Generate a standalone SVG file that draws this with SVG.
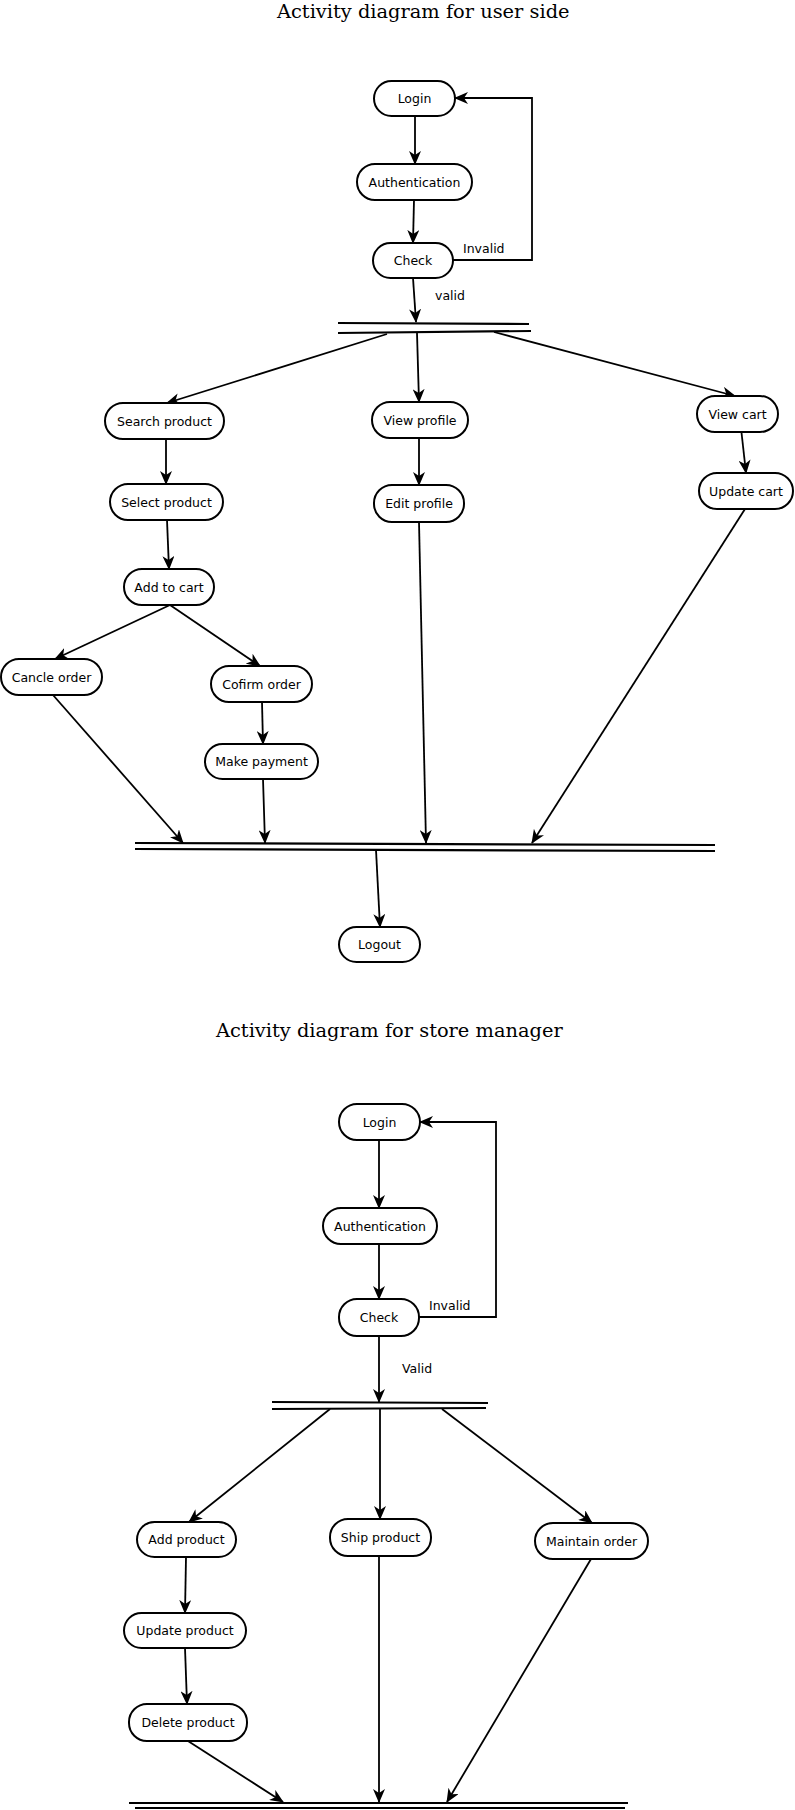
<svg xmlns="http://www.w3.org/2000/svg" width="795" height="1810" viewBox="0 0 795 1810">
<style>
.n rect{fill:#fff;stroke:#000;stroke-width:2}
.n text{font-family:"DejaVu Sans",sans-serif;font-size:12.5px;text-anchor:middle;fill:#000}
.c line,.c polyline{stroke:#000;stroke-width:1.8;fill:none}
.c .a{marker-end:url(#ah)}
.bar line{stroke:#000;stroke-width:2.2}
.t{font-family:"DejaVu Serif",serif;font-size:19.4px;fill:#000}
.l{font-family:"DejaVu Sans",sans-serif;font-size:12.5px;fill:#000}
</style>
<defs>
<marker id="ah" markerWidth="14" markerHeight="12" refX="13" refY="6" orient="auto" markerUnits="userSpaceOnUse">
<path d="M0,0 L14,6 L0,12 L4,6 z" fill="#000"/>
</marker>
</defs>
<rect width="795" height="1810" fill="#fff"/>
<text class="t" x="277" y="18">Activity diagram for user side</text>
<text class="t" x="216" y="1037">Activity diagram for store manager</text>

<g class="bar" id="u-fork">
<line x1="338" y1="323" x2="529" y2="324"/>
<line x1="338" y1="333" x2="531" y2="331"/>
</g>
<g class="bar" id="u-join">
<line x1="135" y1="843" x2="715" y2="845"/>
<line x1="135" y1="849" x2="715" y2="851"/>
</g>
<g class="bar" id="m-fork">
<line x1="272" y1="1402" x2="488" y2="1403"/>
<line x1="272" y1="1409" x2="486" y2="1408"/>
</g>
<g class="bar" id="m-join">
<line x1="129" y1="1803" x2="628" y2="1803"/>
<line x1="135" y1="1808" x2="625" y2="1808"/>
</g>

<g class="c" id="connectors">
<line class="a" x1="415" y1="116" x2="415" y2="164"/>
<line class="a" x1="414" y1="200" x2="413" y2="243"/>
<line class="a" x1="413" y1="278" x2="416" y2="322"/>
<polyline class="a" points="453,260 532,260 532,98 455,98"/>
<line class="a" x1="387" y1="334" x2="167" y2="403"/>
<line class="a" x1="417" y1="333" x2="419" y2="402"/>
<line class="a" x1="494" y1="332" x2="735" y2="396"/>
<line class="a" x1="166" y1="439" x2="166" y2="484"/>
<line class="a" x1="167" y1="520" x2="169" y2="569"/>
<line class="a" x1="419" y1="438" x2="419" y2="485"/>
<line class="a" x1="741" y1="428" x2="746" y2="473"/>
<line class="a" x1="170" y1="605" x2="55" y2="659"/>
<line class="a" x1="170" y1="605" x2="260" y2="666"/>
<line class="a" x1="262" y1="702" x2="263" y2="744"/>
<line class="a" x1="53" y1="695" x2="183" y2="843"/>
<line class="a" x1="263" y1="779" x2="265" y2="843"/>
<line class="a" x1="419" y1="522" x2="426" y2="843"/>
<line class="a" x1="745" y1="509" x2="532" y2="843"/>
<line class="a" x1="376" y1="850" x2="380" y2="927"/>

<line class="a" x1="379" y1="1140" x2="379" y2="1208"/>
<line class="a" x1="379" y1="1244" x2="379" y2="1299"/>
<line class="a" x1="379" y1="1336" x2="379" y2="1402"/>
<polyline class="a" points="419,1317 496,1317 496,1122 420,1122"/>
<line class="a" x1="330" y1="1409" x2="189" y2="1522"/>
<line class="a" x1="380" y1="1409" x2="380" y2="1519"/>
<line class="a" x1="442" y1="1409" x2="592" y2="1523"/>
<line class="a" x1="186" y1="1557" x2="185" y2="1613"/>
<line class="a" x1="185" y1="1648" x2="187" y2="1704"/>
<line class="a" x1="188" y1="1741" x2="283" y2="1802"/>
<line class="a" x1="379" y1="1556" x2="379" y2="1802"/>
<line class="a" x1="591" y1="1559" x2="447" y2="1802"/>
</g>

<text class="l" x="463" y="253">Invalid</text>
<text class="l" x="435" y="300">valid</text>
<text class="l" x="429" y="1310">Invalid</text>
<text class="l" x="402" y="1373">Valid</text>

<g class="n" id="u-login"><rect x="374" y="81" width="81" height="35" rx="17.5"/><text x="414.5" y="103">Login</text></g>
<g class="n" id="u-auth"><rect x="357" y="164" width="115" height="36" rx="18"/><text x="414.5" y="186.5">Authentication</text></g>
<g class="n" id="u-check"><rect x="373" y="243" width="80" height="35" rx="17.5"/><text x="413" y="265">Check</text></g>
<g class="n" id="u-search"><rect x="105" y="403" width="119" height="36" rx="18"/><text x="164.5" y="425.5">Search product</text></g>
<g class="n" id="u-viewprofile"><rect x="372" y="402" width="96" height="36" rx="18"/><text x="420" y="424.5">View profile</text></g>
<g class="n" id="u-viewcart"><rect x="697" y="396" width="81" height="36" rx="18"/><text x="737.5" y="418.5">View cart</text></g>
<g class="n" id="u-select"><rect x="110" y="484" width="113" height="36" rx="18"/><text x="166.5" y="506.5">Select product</text></g>
<g class="n" id="u-editprofile"><rect x="374" y="485" width="90" height="37" rx="18"/><text x="419" y="508">Edit profile</text></g>
<g class="n" id="u-updatecart"><rect x="699" y="473" width="94" height="36" rx="18"/><text x="746" y="495.5">Update cart</text></g>
<g class="n" id="u-addcart"><rect x="124" y="569" width="90" height="36" rx="18"/><text x="169" y="591.5">Add to cart</text></g>
<g class="n" id="u-cancel"><rect x="1" y="659" width="101" height="36" rx="18"/><text x="51.5" y="681.5">Cancle order</text></g>
<g class="n" id="u-confirm"><rect x="211" y="666" width="101" height="36" rx="18"/><text x="261.5" y="688.5">Cofirm order</text></g>
<g class="n" id="u-payment"><rect x="205" y="744" width="113" height="35" rx="17.5"/><text x="261.5" y="766">Make payment</text></g>
<g class="n" id="u-logout"><rect x="339" y="927" width="81" height="35" rx="17.5"/><text x="379.5" y="949">Logout</text></g>

<g class="n" id="m-login"><rect x="339" y="1104" width="81" height="36" rx="18"/><text x="379.5" y="1126.5">Login</text></g>
<g class="n" id="m-auth"><rect x="323" y="1208" width="114" height="36" rx="18"/><text x="380" y="1230.5">Authentication</text></g>
<g class="n" id="m-check"><rect x="339" y="1299" width="80" height="37" rx="18"/><text x="379" y="1322">Check</text></g>
<g class="n" id="m-add"><rect x="137" y="1522" width="99" height="35" rx="17.5"/><text x="186.5" y="1544">Add product</text></g>
<g class="n" id="m-ship"><rect x="330" y="1519" width="101" height="37" rx="18"/><text x="380.5" y="1542">Ship product</text></g>
<g class="n" id="m-maintain"><rect x="535" y="1523" width="113" height="36" rx="18"/><text x="591.5" y="1545.5">Maintain order</text></g>
<g class="n" id="m-update"><rect x="124" y="1613" width="122" height="35" rx="17.5"/><text x="185" y="1635">Update product</text></g>
<g class="n" id="m-delete"><rect x="129" y="1704" width="118" height="37" rx="18"/><text x="188" y="1727">Delete product</text></g>
</svg>
